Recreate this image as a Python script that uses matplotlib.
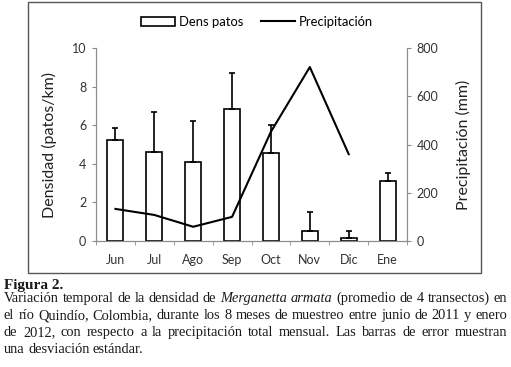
import numpy as np
import matplotlib
matplotlib.use("Agg")
import matplotlib.pyplot as plt
from matplotlib.patches import Rectangle, Patch
from matplotlib.lines import Line2D

# Data
months = ["Jun", "Jul", "Ago", "Sep", "Oct", "Nov", "Dic", "Ene"]
dens = [5.25, 4.6, 4.1, 6.85, 4.55, 0.5, 0.15, 3.1]          # patos/km
dens_sd = [0.6, 2.1, 2.1, 1.85, 1.45, 1.0, 0.35, 0.4]
precip_months = ["Jun", "Jul", "Ago", "Sep", "Oct", "Nov", "Dic"]
precip = [133, 108, 59, 100, 453, 721, 360]                   # mm

caption_title = "Figura 2."
caption_lines = [
    [("Variación temporal de la densidad de", "normal"), ("Merganetta armata", "italic"),
     ("(promedio de 4 transectos) en", "normal")],
    [("el río Quindío, Colombia, durante los 8 meses de muestreo entre junio de 2011 y enero", "normal")],
    [("de 2012, con respecto a la precipitación total mensual. Las barras de error muestran", "normal")],
    [("una desviación estándar.", "normal")],
]

W, H = 511, 367
plt.rcParams['font.family'] = ['Lato', 'DejaVu Sans']
grey = '#8c8c8c'

fig = plt.figure(figsize=(W / 100, H / 100), dpi=100)
ax = fig.add_axes([96 / W, (H - 241) / H, 311 / W, 193 / H])

x = np.arange(len(months))
ax.bar(x, dens, width=0.41, color='white', edgecolor='black', linewidth=1.2,
       yerr=[np.zeros(len(dens)), dens_sd], capsize=2.5,
       error_kw=dict(elinewidth=1.2, capthick=1.2, ecolor='black'), zorder=2)
ax.set_xlim(-0.5, len(months) - 0.5)
ax.set_ylim(0, 10)
ax.set_yticks([0, 2, 4, 6, 8, 10])
ax.set_xticks(x)
ax.set_xticklabels(months)
ax.set_xticks(np.arange(-0.5, len(months)), minor=True)
ax.tick_params(axis='x', which='major', length=0, pad=9, labelsize=9, labelcolor='#333')
ax.tick_params(axis='x', which='minor', length=3, color=grey, direction='out')
ax.tick_params(axis='y', length=3, color=grey, labelsize=9, labelcolor='#333', pad=4)
ax.set_ylabel("Densidad (patos/km)", fontsize=11.5, color='#222')
ax.yaxis.set_label_coords(-0.125, 0.5)

ax2 = ax.twinx()
xp = [months.index(m) for m in precip_months]
ax2.plot(xp, precip, color='black', linewidth=1.5, zorder=3)
ax2.set_ylim(0, 800)
ax2.set_yticks([0, 200, 400, 600, 800])
ax2.tick_params(axis='y', length=3, color=grey, labelsize=9, labelcolor='#333', pad=4)
ax2.set_ylabel("Precipitación (mm)", fontsize=11.5, color='#222')
ax2.yaxis.set_label_coords(1.158, 0.5)

for a in (ax, ax2):
    a.spines['top'].set_visible(False)
    for s in ('left', 'right', 'bottom'):
        a.spines[s].set_color(grey)
        a.spines[s].set_linewidth(0.8)

handles = [Patch(facecolor='white', edgecolor='black', linewidth=1.2, label='Dens patos'),
           Line2D([], [], color='black', linewidth=1.5, label='Precipitación')]
fig.legend(handles=handles, loc='center', bbox_to_anchor=(257 / W, 1 - 22 / H),
           ncol=2, frameon=False, fontsize=9.4, handlelength=2.6, handleheight=0.7,
           columnspacing=1.4, handletextpad=0.25)

# outer box around the chart
fig.patches.append(Rectangle((28 / W, 1 - 273 / H), 453 / W, 271 / H,
                             transform=fig.transFigure, fill=False,
                             edgecolor='#555555', linewidth=1.0))

# caption
serif = ['Liberation Serif', 'DejaVu Serif']
fig.text(4 / W, 1 - 289 / H, caption_title, fontsize=11, fontweight='bold',
         family=serif, va='baseline', color='#1a1a1a')

renderer = fig.canvas.get_renderer()
left, right = 4, 507
baselines = [302, 319, 336, 353]
for i, (segs, yb) in enumerate(zip(caption_lines, baselines)):
    words = []
    for txt, style in segs:
        words += [(w, style) for w in txt.split()]
    objs = []
    for w, style in words:
        t = fig.text(0, 1 - yb / H, w, fontsize=10.4, style=style, family=serif,
                     va='baseline', color='#1a1a1a')
        objs.append(t)
    widths = [t.get_window_extent(renderer).width for t in objs]
    if i < len(caption_lines) - 1:
        gap = (right - left - sum(widths)) / (len(objs) - 1)
    else:
        gap = 3.4
    pos = left
    for t, wd in zip(objs, widths):
        t.set_x(pos / W)
        pos += wd + gap

fig.savefig("out.png", dpi=100)
